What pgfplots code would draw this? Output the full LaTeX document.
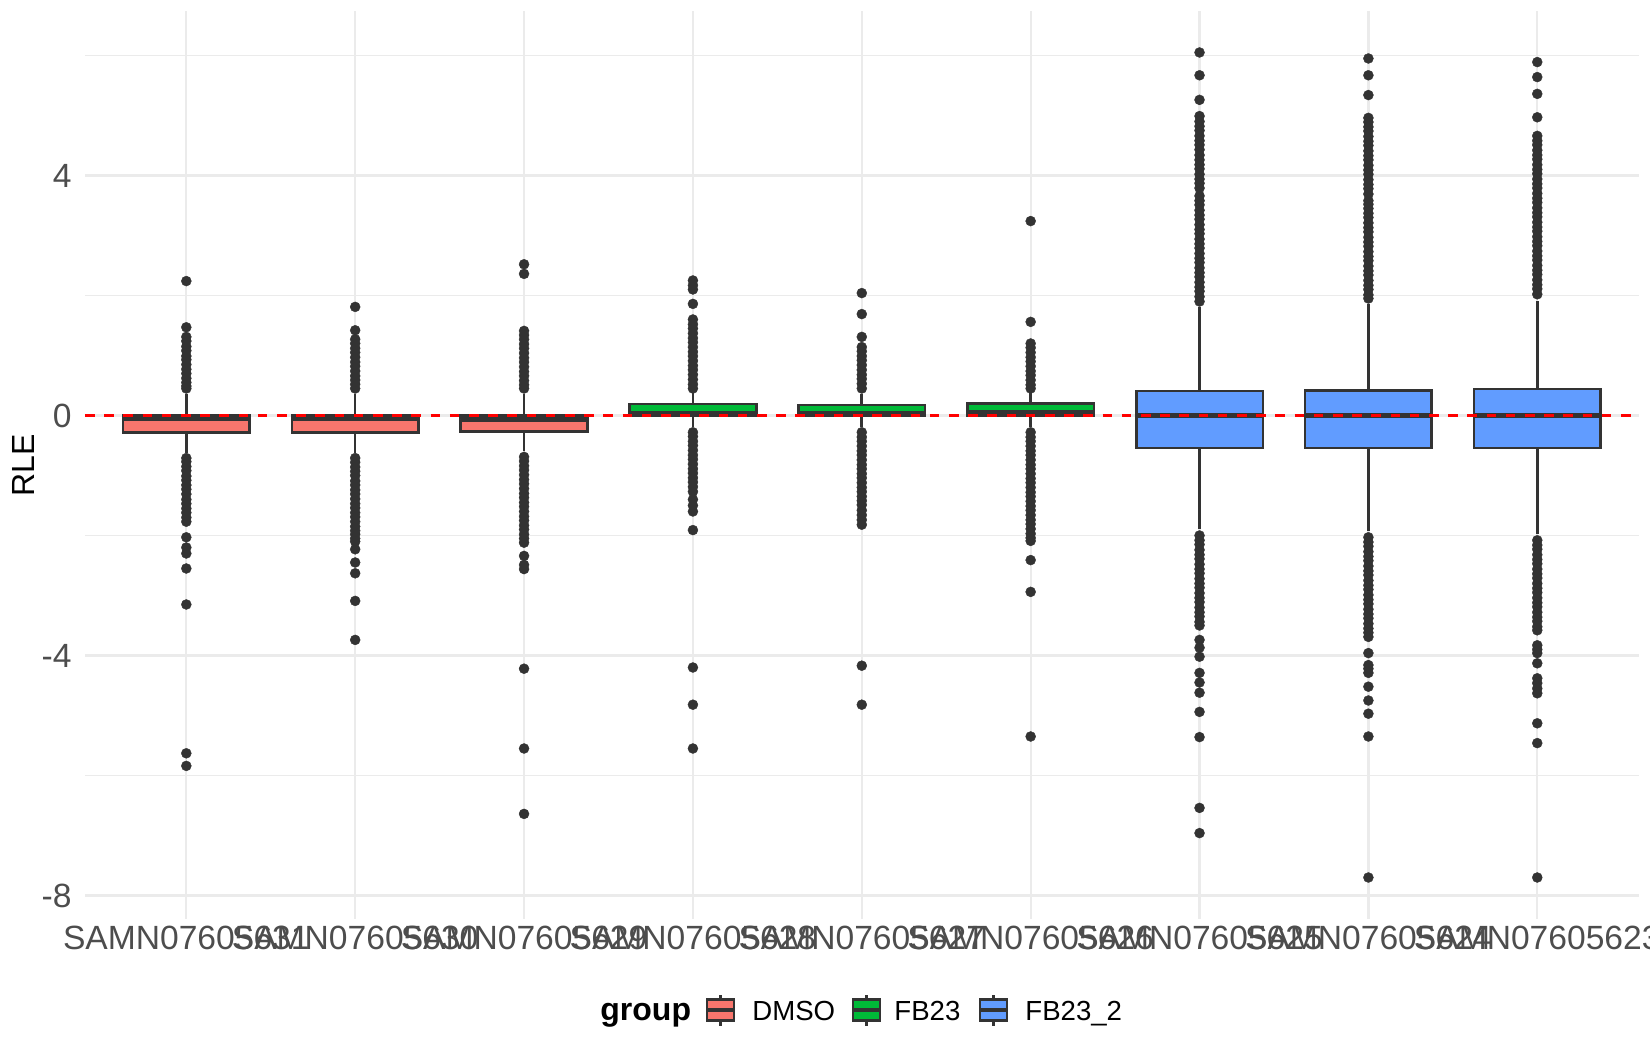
\documentclass[border=0pt]{standalone}
\usepackage{pgfplots}
\pgfplotsset{compat=1.18}
\usepgfplotslibrary{statistics}
\usepackage{fontspec}
\setmainfont{Liberation Sans}
\definecolor{grey20}{HTML}{333333}
\definecolor{grey30}{HTML}{4D4D4D}
\definecolor{grey92}{HTML}{EBEBEB}
\definecolor{cdmso}{HTML}{F8766D}
\definecolor{cfb}{HTML}{00BA38}
\definecolor{cfbb}{HTML}{619CFF}
\pgfplotsset{
  rbox/.style={boxplot prepared={#1, box extend=0.75, whisker extend=0},
    draw=grey20, line width=1.3bp, solid, mark=*, mark size=2.5bp,
    mark options={draw=grey20, fill=grey20, line width=0.2bp}},
}
\begin{document}
\begin{tikzpicture}
\path[use as bounding box] (-42.5bp,-65.55bp) rectangle (782.5bp,459.45bp);
\begin{axis}[
  at={(0,0)}, anchor=south west,
  scale only axis, width=776.8bp, height=453.9bp,
  xmin=0.4, xmax=9.6, ymin=-8.39, ymax=6.74,
  axis line style={draw=none},
  major tick length=0pt, minor tick length=0pt,
  xtick={1,2,3,4,5,6,7,8,9},
  xticklabels={SAMN07605631,SAMN07605630,SAMN07605629,SAMN07605628,SAMN07605627,SAMN07605626,SAMN07605625,SAMN07605624,SAMN07605623},
  ytick={-8,-4,0,4}, yticklabels={-8,-4,0,4},
  minor ytick={-6,-2,2,6},
  xmajorgrids, ymajorgrids, yminorgrids,
  major grid style={color=grey92, line width=1.1bp},
  minor grid style={color=grey92, line width=0.55bp},
  tick label style={font=\fontsize{16.8bp}{20bp}\selectfont, color=grey30},
  xticklabel style={inner sep=0pt, anchor=north, yshift=-3.5bp},
  yticklabel style={inner sep=0pt, anchor=east, xshift=-6.5bp},
  ylabel={RLE},
  ylabel style={at={(axis description cs:-0.0396,0.5)}, anchor=center, inner sep=0pt, font=\fontsize{16bp}{19bp}\selectfont, color=black},
  boxplot/draw direction=y,
  boxplot/every median/.style={line width=2.6bp},
]
% DMSO
\addplot[rbox={draw position=1, lower whisker=-0.62, lower quartile=-0.28, median=-0.05, upper quartile=0.005, upper whisker=0.36}, fill=cdmso]
 table[row sep=\\, y index=0] {d\\ 2.24\\ 1.47\\ 1.31\\ 1.24\\ 1.15\\ 1.08\\ 0.99\\ 0.93\\ 0.85\\ 0.77\\ 0.70\\ 0.62\\ 0.55\\ 0.49\\ 0.45\\
 -0.71\\ -0.77\\ -0.85\\ -0.92\\ -1.01\\ -1.08\\ -1.16\\ -1.23\\ -1.31\\ -1.40\\ -1.47\\ -1.55\\ -1.62\\ -1.70\\ -1.77\\ -2.03\\ -2.20\\ -2.30\\ -2.55\\ -3.15\\ -5.63\\ -5.84\\};
\addplot[rbox={draw position=2, lower whisker=-0.62, lower quartile=-0.28, median=-0.05, upper quartile=0.005, upper whisker=0.36}, fill=cdmso]
 table[row sep=\\, y index=0] {d\\ 1.81\\ 1.42\\ 1.27\\ 1.20\\ 1.12\\ 1.05\\ 0.97\\ 0.89\\ 0.82\\ 0.74\\ 0.66\\ 0.59\\ 0.52\\ 0.45\\
 -0.71\\ -0.78\\ -0.86\\ -0.93\\ -1.00\\ -1.09\\ -1.16\\ -1.24\\ -1.31\\ -1.39\\ -1.47\\ -1.54\\ -1.62\\ -1.69\\ -1.77\\ -1.85\\ -1.92\\ -1.98\\ -2.05\\ -2.10\\ -2.23\\ -2.45\\ -2.63\\ -3.09\\ -3.74\\};
\addplot[rbox={draw position=3, lower whisker=-0.60, lower quartile=-0.27, median=-0.06, upper quartile=-0.005, upper whisker=0.36}, fill=cdmso]
 table[row sep=\\, y index=0] {d\\ 2.52\\ 2.36\\ 1.41\\ 1.34\\ 1.27\\ 1.19\\ 1.12\\ 1.04\\ 0.96\\ 0.89\\ 0.81\\ 0.73\\ 0.66\\ 0.58\\ 0.51\\ 0.45\\
 -0.69\\ -0.76\\ -0.84\\ -0.91\\ -0.99\\ -1.07\\ -1.14\\ -1.22\\ -1.30\\ -1.37\\ -1.45\\ -1.52\\ -1.60\\ -1.68\\ -1.75\\ -1.83\\ -1.90\\ -1.98\\ -2.05\\ -2.12\\ -2.34\\ -2.49\\ -2.56\\ -4.22\\ -5.55\\ -6.64\\};
% FB23
\addplot[rbox={draw position=4, lower whisker=-0.19, lower quartile=0.0, median=0.03, upper quartile=0.19, upper whisker=0.38}, fill=cfb]
 table[row sep=\\, y index=0] {d\\ 2.25\\ 2.17\\ 2.10\\ 1.86\\ 1.60\\ 1.52\\ 1.45\\ 1.37\\ 1.29\\ 1.22\\ 1.14\\ 1.06\\ 0.99\\ 0.91\\ 0.83\\ 0.76\\ 0.68\\ 0.60\\ 0.52\\ 0.45\\
 -0.28\\ -0.35\\ -0.43\\ -0.50\\ -0.58\\ -0.66\\ -0.73\\ -0.81\\ -0.89\\ -0.96\\ -1.04\\ -1.11\\ -1.19\\ -1.27\\ -1.40\\ -1.50\\ -1.60\\ -1.91\\ -4.20\\ -4.82\\ -5.55\\};
\addplot[rbox={draw position=5, lower whisker=-0.19, lower quartile=0.0, median=0.03, upper quartile=0.175, upper whisker=0.35}, fill=cfb]
 table[row sep=\\, y index=0] {d\\ 2.04\\ 1.69\\ 1.31\\ 1.14\\ 1.07\\ 0.99\\ 0.92\\ 0.84\\ 0.76\\ 0.68\\ 0.61\\ 0.53\\ 0.45\\
 -0.28\\ -0.36\\ -0.43\\ -0.51\\ -0.59\\ -0.66\\ -0.74\\ -0.82\\ -0.89\\ -0.97\\ -1.04\\ -1.12\\ -1.20\\ -1.27\\ -1.35\\ -1.42\\ -1.49\\ -1.58\\ -1.66\\ -1.74\\ -1.82\\ -4.17\\ -4.82\\};
\addplot[rbox={draw position=6, lower whisker=-0.19, lower quartile=0.0, median=0.04, upper quartile=0.20, upper whisker=0.38}, fill=cfb]
 table[row sep=\\, y index=0] {d\\ 3.24\\ 1.56\\ 1.20\\ 1.13\\ 1.05\\ 0.97\\ 0.90\\ 0.82\\ 0.74\\ 0.67\\ 0.59\\ 0.51\\ 0.45\\
 -0.28\\ -0.36\\ -0.43\\ -0.51\\ -0.59\\ -0.66\\ -0.74\\ -0.82\\ -0.89\\ -0.97\\ -1.05\\ -1.12\\ -1.20\\ -1.28\\ -1.35\\ -1.43\\ -1.51\\ -1.58\\ -1.66\\ -1.74\\ -1.81\\ -1.89\\ -1.97\\ -2.04\\ -2.09\\ -2.41\\ -2.94\\ -5.35\\};
% FB23_2
\addplot[rbox={draw position=7, lower whisker=-1.90, lower quartile=-0.54, median=0.0, upper quartile=0.41, upper whisker=1.80}, fill=cfbb]
 table[row sep=\\, y index=0] {d\\ 6.05\\ 5.67\\ 5.26\\ 4.99\\ 4.90\\ 4.82\\ 4.75\\ 4.66\\ 4.58\\ 4.51\\ 4.43\\ 4.34\\ 4.26\\ 4.18\\ 4.11\\ 4.02\\ 3.94\\ 3.87\\ 3.79\\ 3.66\\ 3.58\\ 3.51\\ 3.42\\ 3.34\\ 3.27\\ 3.18\\ 3.10\\ 3.03\\ 2.94\\ 2.86\\ 2.79\\ 2.70\\ 2.62\\ 2.55\\ 2.46\\ 2.38\\ 2.31\\ 2.22\\ 2.14\\ 2.07\\ 1.98\\ 1.90\\
 -2.00\\ -2.08\\ -2.15\\ -2.24\\ -2.32\\ -2.39\\ -2.48\\ -2.56\\ -2.63\\ -2.72\\ -2.80\\ -2.87\\ -2.96\\ -3.04\\ -3.11\\ -3.20\\ -3.28\\ -3.35\\ -3.44\\ -3.50\\ -3.74\\ -3.87\\ -4.02\\ -4.29\\ -4.45\\ -4.62\\ -4.94\\ -5.36\\ -6.54\\ -6.96\\};
\addplot[rbox={draw position=8, lower whisker=-1.93, lower quartile=-0.54, median=0.0, upper quartile=0.42, upper whisker=1.85}, fill=cfbb]
 table[row sep=\\, y index=0] {d\\ 5.95\\ 5.67\\ 5.34\\ 4.96\\ 4.89\\ 4.81\\ 4.74\\ 4.65\\ 4.57\\ 4.50\\ 4.41\\ 4.33\\ 4.26\\ 4.17\\ 4.09\\ 4.02\\ 3.93\\ 3.85\\ 3.78\\ 3.69\\ 3.58\\ 3.52\\ 3.45\\ 3.37\\ 3.30\\ 3.21\\ 3.13\\ 3.06\\ 2.97\\ 2.89\\ 2.82\\ 2.73\\ 2.65\\ 2.58\\ 2.49\\ 2.41\\ 2.34\\ 2.25\\ 2.17\\ 2.10\\ 2.01\\ 1.95\\
 -2.03\\ -2.11\\ -2.18\\ -2.27\\ -2.35\\ -2.42\\ -2.51\\ -2.59\\ -2.66\\ -2.75\\ -2.83\\ -2.90\\ -2.99\\ -3.07\\ -3.14\\ -3.23\\ -3.31\\ -3.38\\ -3.47\\ -3.55\\ -3.62\\ -3.69\\ -3.96\\ -4.16\\ -4.22\\ -4.29\\ -4.52\\ -4.75\\ -4.97\\ -5.35\\ -7.70\\};
\addplot[rbox={draw position=9, lower whisker=-1.98, lower quartile=-0.54, median=0.0, upper quartile=0.44, upper whisker=1.90}, fill=cfbb]
 table[row sep=\\, y index=0] {d\\ 5.89\\ 5.64\\ 5.36\\ 4.97\\ 4.66\\ 4.58\\ 4.51\\ 4.42\\ 4.34\\ 4.27\\ 4.18\\ 4.10\\ 4.03\\ 3.94\\ 3.86\\ 3.79\\ 3.70\\ 3.62\\ 3.55\\ 3.46\\ 3.38\\ 3.31\\ 3.22\\ 3.14\\ 3.07\\ 2.98\\ 2.90\\ 2.83\\ 2.74\\ 2.66\\ 2.59\\ 2.50\\ 2.42\\ 2.35\\ 2.26\\ 2.18\\ 2.11\\ 2.02\\
 -2.08\\ -2.16\\ -2.23\\ -2.32\\ -2.40\\ -2.47\\ -2.56\\ -2.64\\ -2.71\\ -2.80\\ -2.88\\ -2.95\\ -3.04\\ -3.12\\ -3.19\\ -3.28\\ -3.36\\ -3.43\\ -3.52\\ -3.58\\ -3.83\\ -3.90\\ -3.96\\ -4.13\\ -4.38\\ -4.46\\ -4.55\\ -4.63\\ -5.13\\ -5.46\\ -7.70\\};
% reference line
\addplot[red, line width=1.4bp, dash pattern=on 4.8bp off 4.8bp, forget plot] coordinates {(0.4,0) (9.6,0)};
\end{axis}
% legend
\node[anchor=base west, inner sep=0pt, font=\fontsize{16bp}{19bp}\selectfont\bfseries] at (257.5bp,-50.55bp) {group};
\foreach \xa/\col/\lab/\tx in {311/cdmso/DMSO/333.5, 384/cfb/FB23/404.5, 447.5/cfbb/FB23\_2/470} {
  \draw[grey20, line width=1.1bp] (\xa bp+6.75bp,-53.3bp) -- (\xa bp+6.75bp,-37.8bp);
  \draw[draw=grey20, fill=\col, line width=1.1bp] (\xa bp,-50.8bp) rectangle (\xa bp+13.5bp,-40.3bp);
  \draw[grey20, line width=1.6bp] (\xa bp,-45.55bp) -- (\xa bp+13.5bp,-45.55bp);
  \node[anchor=base west, inner sep=0pt, font=\fontsize{13.8bp}{16bp}\selectfont] at (\tx bp,-50.55bp) {\lab};
}
\end{tikzpicture}
\end{document}
